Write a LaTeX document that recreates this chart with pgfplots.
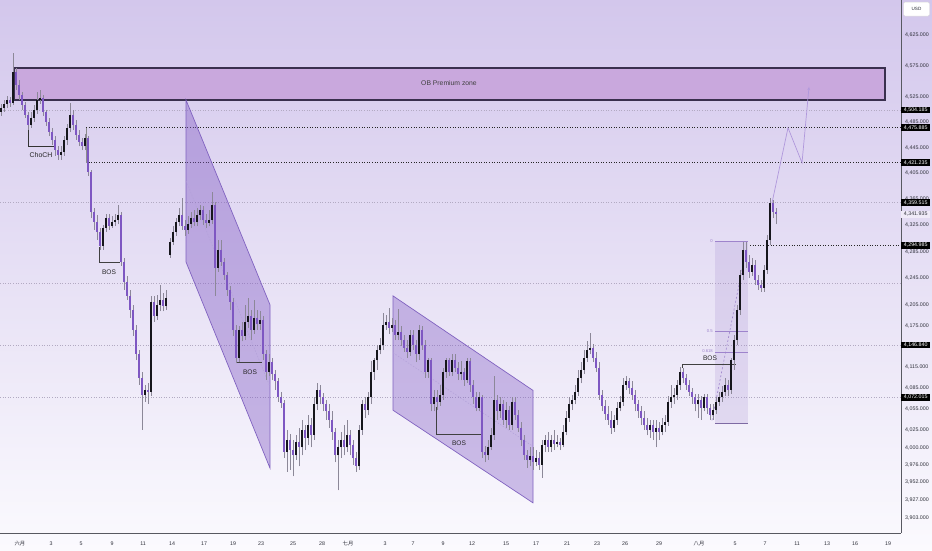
\documentclass[border=0pt]{standalone}
\usepackage{fontspec}
\setmainfont{Liberation Sans}
\newfontfamily\cjk{Noto Sans CJK SC}
\usepackage{pgfplots}
\usepackage{pgfplotstable}
\pgfplotsset{compat=1.18}
\usetikzlibrary{arrows.meta}
\definecolor{bgtop}{RGB}{211,199,236}
\definecolor{bgbot}{RGB}{251,250,254}
\definecolor{upc}{RGB}{22,22,28}
\definecolor{dnc}{RGB}{126,87,194}
\definecolor{wickc}{RGB}{140,136,152}
\definecolor{obfill}{RGB}{201,168,221}
\definecolor{obedge}{RGB}{58,48,78}
\definecolor{chan}{RGB}{126,87,194}
\definecolor{chanedge}{RGB}{128,98,192}
\definecolor{lblc}{RGB}{46,48,58}
\definecolor{gridc}{RGB}{178,170,194}
\definecolor{fibc}{RGB}{158,132,204}
\definecolor{projc}{RGB}{176,152,220}

\pgfplotstableread{
x o h l c
1 4501 4514 4495 4507
4 4507 4520 4501 4514
7 4514 4526 4507 4520
10 4520 4525 4509 4515
13 4515 4595 4512 4565
16 4565 4571 4536 4544
19 4544 4552 4520 4528
22 4528 4533 4504 4512
25 4512 4517 4492 4496
28 4496 4501 4473 4480
31 4480 4501 4476 4492
34 4492 4512 4485 4504
37 4504 4533 4498 4520
40 4520 4536 4514 4523
43 4523 4528 4495 4501
46 4501 4504 4479 4485
49 4485 4492 4463 4469
52 4469 4476 4449 4457
55 4457 4463 4432 4441
58 4441 4447 4426 4434
61 4434 4447 4426 4438
64 4438 4463 4432 4457
67 4457 4482 4449 4476
70 4476 4515 4469 4496
73 4496 4504 4473 4480
76 4480 4488 4457 4465
79 4465 4473 4447 4454
82 4454 4460 4441 4447
85 4447 4466 4441 4460
88 4460 4463 4401 4407
91 4407 4410 4336 4346
94 4346 4352 4318 4330
97 4330 4341 4303 4315
100 4315 4321 4288 4294
103 4294 4326 4288 4321
106 4321 4343 4315 4336
109 4336 4343 4318 4324
112 4324 4339 4321 4330
115 4330 4343 4324 4333
118 4333 4356 4327 4341
121 4341 4346 4264 4270
124 4270 4276 4228 4240
127 4240 4249 4213 4219
130 4219 4228 4187 4198
133 4198 4206 4160 4169
136 4169 4176 4125 4133
139 4133 4140 4089 4099
142 4099 4108 4025 4075
145 4075 4089 4065 4082
148 4082 4092 4062 4079
151 4079 4219 4073 4210
154 4210 4219 4181 4190
157 4190 4221 4184 4206
160 4206 4235 4196 4213
163 4213 4224 4196 4204
166 4204 4228 4198 4216
170 4280 4306 4276 4300
173 4300 4324 4295 4315
176 4315 4336 4309 4330
179 4330 4352 4324 4341
182 4341 4367 4318 4324
185 4324 4333 4309 4318
188 4318 4339 4312 4327
191 4327 4346 4321 4336
194 4336 4349 4324 4330
197 4330 4352 4324 4341
200 4341 4356 4333 4349
203 4349 4355 4326 4333
206 4333 4343 4321 4329
209 4329 4349 4324 4333
212 4333 4376 4327 4356
215 4356 4361 4219 4261
218 4261 4303 4255 4288
221 4288 4303 4264 4270
224 4270 4276 4243 4250
227 4250 4255 4219 4228
230 4228 4234 4198 4210
233 4210 4216 4160 4169
236 4169 4176 4120 4128
239 4128 4175 4122 4169
242 4169 4181 4152 4160
245 4160 4206 4154 4181
248 4181 4216 4172 4190
251 4190 4198 4154 4169
254 4169 4213 4163 4187
257 4187 4198 4169 4178
260 4178 4196 4169 4184
263 4184 4190 4125 4133
266 4133 4140 4096 4108
269 4108 4133 4102 4122
272 4122 4128 4096 4104
275 4104 4111 4082 4094
278 4094 4099 4065 4072
281 4072 4079 4056 4063
284 4063 4068 3986 3994
287 3994 4025 3966 4011
290 4011 4019 3969 3997
293 3997 4011 3960 3990
296 3990 4017 3983 4008
299 4008 4028 3974 4000
302 4000 4039 3990 4025
305 4025 4032 3997 4014
308 4014 4046 4004 4032
311 4032 4042 4000 4018
314 4018 4071 4011 4061
317 4061 4092 4053 4082
320 4082 4089 4061 4071
323 4071 4078 4051 4061
326 4061 4068 4039 4051
329 4051 4061 4028 4039
332 4039 4051 4011 4022
335 4022 4028 3980 3990
338 3990 4011 3941 4000
341 4000 4022 3986 4011
344 4011 4032 3990 4000
347 4000 4039 3994 4018
350 4018 4025 3990 4004
353 4004 4011 3976 3986
356 3986 3994 3966 3974
359 3974 4032 3969 4025
362 4025 4068 4018 4061
365 4061 4071 4042 4053
368 4053 4079 4046 4071
371 4071 4124 4062 4108
374 4108 4128 4096 4125
377 4125 4147 4111 4140
380 4140 4157 4133 4147
383 4147 4194 4140 4176
386 4176 4191 4169 4181
389 4181 4201 4163 4172
392 4172 4187 4166 4176
395 4176 4184 4154 4162
398 4162 4200 4154 4166
401 4166 4175 4146 4154
404 4154 4162 4137 4143
407 4143 4154 4128 4137
410 4137 4169 4131 4162
413 4162 4169 4140 4147
416 4147 4154 4122 4133
419 4133 4176 4125 4169
422 4169 4175 4140 4147
425 4147 4154 4099 4108
428 4108 4128 4099 4125
431 4125 4128 4051 4061
434 4061 4082 4051 4071
437 4071 4082 4053 4065
440 4065 4089 4059 4075
443 4075 4114 4068 4108
446 4108 4128 4099 4125
449 4125 4128 4102 4108
452 4108 4133 4102 4125
455 4125 4133 4108 4114
458 4114 4122 4096 4104
461 4104 4124 4096 4108
464 4108 4114 4088 4096
467 4096 4128 4091 4124
470 4124 4128 4079 4089
473 4089 4096 4061 4071
476 4071 4079 4051 4056
479 4056 4079 4051 4071
482 4071 4075 3986 3994
485 3994 4002 3980 3990
488 3990 4011 3983 4001
491 4001 4028 3997 4017
494 4017 4102 4011 4068
497 4068 4075 4039 4051
500 4051 4071 4042 4061
503 4061 4068 4032 4039
506 4039 4065 4028 4053
509 4053 4059 4025 4032
512 4032 4071 4025 4065
515 4065 4071 4039 4046
518 4046 4053 4022 4028
521 4028 4036 4002 4011
524 4011 4018 3983 3990
527 3990 3997 3972 3983
530 3983 4000 3974 3988
533 3988 4000 3969 3980
536 3980 3997 3974 3986
539 3986 3994 3969 3976
542 3976 4011 3958 4004
545 4004 4018 3994 4011
548 4011 4022 3994 4001
551 4001 4018 3994 4011
554 4011 4025 3997 4005
557 4005 4018 4000 4008
560 4008 4014 3997 4004
563 4004 4032 4000 4022
566 4022 4051 4017 4042
569 4042 4071 4036 4061
572 4061 4075 4053 4068
575 4068 4089 4061 4079
578 4079 4111 4073 4099
581 4099 4122 4091 4111
584 4111 4140 4105 4128
587 4128 4152 4122 4140
590 4140 4165 4133 4143
593 4143 4149 4122 4128
596 4128 4137 4108 4114
599 4114 4122 4068 4075
602 4075 4082 4051 4058
605 4058 4068 4039 4048
608 4048 4059 4032 4039
611 4039 4051 4019 4028
614 4028 4046 4022 4039
617 4039 4065 4032 4056
620 4056 4073 4051 4065
623 4065 4099 4059 4089
626 4089 4102 4082 4094
629 4094 4099 4076 4085
632 4085 4094 4068 4075
635 4075 4082 4051 4061
638 4061 4068 4042 4051
641 4051 4059 4032 4042
644 4042 4051 4025 4032
647 4032 4042 4017 4025
650 4025 4039 4014 4032
653 4032 4039 4011 4022
656 4022 4039 4000 4028
659 4028 4036 4011 4022
662 4022 4042 4017 4032
665 4032 4046 4022 4036
668 4036 4073 4031 4065
671 4065 4089 4056 4071
674 4071 4085 4062 4075
677 4075 4096 4068 4089
680 4089 4115 4082 4108
683 4108 4114 4091 4099
686 4099 4105 4082 4089
689 4089 4096 4073 4079
692 4079 4085 4062 4071
695 4071 4076 4051 4061
698 4061 4076 4042 4068
701 4068 4073 4039 4056
704 4056 4076 4051 4071
707 4071 4076 4048 4056
710 4056 4062 4039 4046
713 4046 4061 4039 4053
716 4053 4071 4048 4065
719 4065 4079 4059 4071
722 4071 4088 4065 4079
725 4079 4099 4073 4089
728 4089 4096 4073 4082
731 4082 4128 4076 4125
734 4125 4162 4111 4154
737 4154 4206 4147 4198
740 4198 4258 4191 4250
743 4250 4300 4243 4288
746 4288 4300 4261 4270
749 4270 4280 4246 4255
752 4255 4276 4249 4265
755 4265 4273 4235 4243
758 4243 4250 4228 4235
761 4235 4243 4225 4231
764 4231 4265 4225 4258
767 4258 4311 4252 4303
770 4303 4367 4295 4359
773 4359 4364 4336 4346
776 4346 4352 4327 4342
}\candles

% build wick / body segment lists from the table
\pgfplotstablegetrowsof{\candles}
\pgfmathtruncatemacro\lastrow{\pgfplotsretval-1}
\gdef\wicks{}\gdef\ups{}\gdef\downs{}
\pgfplotsforeachungrouped \i in {0,...,\lastrow}{%
  \pgfplotstablegetelem{\i}{x}\of\candles \let\cx\pgfplotsretval
  \pgfplotstablegetelem{\i}{o}\of\candles \let\co\pgfplotsretval
  \pgfplotstablegetelem{\i}{h}\of\candles \let\ch\pgfplotsretval
  \pgfplotstablegetelem{\i}{l}\of\candles \let\cl\pgfplotsretval
  \pgfplotstablegetelem{\i}{c}\of\candles \let\cc\pgfplotsretval
  \xdef\wicks{\wicks (\cx,\cl) (\cx,\ch) (nan,\ch)}%
  \ifdim \cc pt < \co pt
    \xdef\downs{\downs (\cx,\co) (\cx,\cc) (nan,\cc)}%
  \else
    \pgfmathsetmacro\ctop{max(\cc,\co+1.5)}%
    \xdef\ups{\ups (\cx,\co) (\cx,\ctop) (nan,\ctop)}%
  \fi
}

\begin{document}
\begin{tikzpicture}[x=1pt,y=1pt]
\useasboundingbox (0,0) rectangle (932,550);
\shade[top color=bgtop, bottom color=bgbot] (0,0) rectangle (932,550);
\begin{axis}[
  at={(0pt,17pt)}, anchor=south west,
  scale only axis, width=901pt, height=533pt,
  y coord trafo/.code={\pgfmathparse{1000*ln(#1)}},
  y coord inv trafo/.code={\pgfmathparse{exp(#1/1000)}},
  xmin=0, xmax=901, ymin=3881.8, ymax=4681.7,
  enlargelimits=false, scaled ticks=false,
  axis x line*=bottom, axis y line*=right,
  axis line style={draw=lblc!80, line width=1pt},
  major tick length=0pt, minor tick length=0pt,
  xtick={20,51,81,112,143,172,204,233,261,293,322,348,385,413,443,472,506,536,567,597,625,659,699,735,765,797,827,855,888},
  xticklabels={{\cjk 六月},3,5,9,11,14,17,19,23,25,28,{\cjk 七月},3,7,9,12,15,17,21,23,26,29,{\cjk 八月},5,7,11,13,16,19},
  ytick={3903,3927,3952,3976,4000,4025,4055,4085,4115,4175,4205,4245,4285,4325,4365,4405,4445,4485,4525,4575,4625},
  yticklabels={{3,903.000},{3,927.000},{3,952.000},{3,976.000},{4,000.000},{4,025.000},{4,055.000},{4,085.000},{4,115.000},{4,175.000},{4,205.000},{4,245.000},{4,285.000},{4,325.000},{4,365.000},{4,405.000},{4,445.000},{4,485.000},{4,525.000},{4,575.000},{4,625.000}},
  tick label style={font=\fontsize{5.3}{6}\selectfont, text=lblc},
  xticklabel style={anchor=base, yshift=-12.5pt, inner sep=0pt},
  yticklabel style={anchor=west, inner sep=0pt, xshift=4pt},
  unbounded coords=jump,
]
% grey dotted level lines
\draw[gridc, line width=0.6pt, dash pattern=on 1pt off 1.6pt] (axis cs:0,4504.185) -- (axis cs:901,4504.185);
\draw[gridc, line width=0.6pt, dash pattern=on 1pt off 1.6pt] (axis cs:0,4359.515) -- (axis cs:901,4359.515);
\draw[gridc, line width=0.6pt, dash pattern=on 1pt off 1.6pt] (axis cs:0,4238.4) -- (axis cs:901,4238.4);
\draw[gridc, line width=0.6pt, dash pattern=on 1pt off 1.6pt] (axis cs:0,4146.84) -- (axis cs:901,4146.84);
\draw[gridc, line width=0.6pt, dash pattern=on 1pt off 1.6pt] (axis cs:0,4072.015) -- (axis cs:901,4072.015);
% black dotted lines
\draw[black!85, line width=0.7pt, dash pattern=on 1pt off 1.6pt] (axis cs:86,4475.885) -- (axis cs:901,4475.885);
\draw[black!85, line width=0.7pt, dash pattern=on 1pt off 1.6pt] (axis cs:86,4421.235) -- (axis cs:901,4421.235);
\draw[black!85, line width=0.7pt, dash pattern=on 1pt off 1.6pt] (axis cs:750,4294.985) -- (axis cs:901,4294.985);
\draw[black!45, line width=0.5pt] (axis cs:86,4475.885) -- (axis cs:86,4421.235);
% OB zone
\draw[fill=obfill, draw=obedge, line width=1.1pt] (axis cs:14,4571.0) rectangle (axis cs:885,4520.0);
\node[font=\fontsize{6.8}{7}\selectfont, text=black!75, inner sep=0pt] at (axis cs:449,4546.5) {OB Premium zone};
% channel 1
\fill[chan, fill opacity=0.40] (axis cs:186,4520.0) -- (axis cs:270,4205.8) -- (axis cs:270,3971.6) -- (axis cs:186,4269.8) -- cycle;
\draw[chanedge, line width=0.7pt] (axis cs:186,4520.0) -- (axis cs:270,4205.8) -- (axis cs:270,3971.6) -- (axis cs:186,4269.8) -- cycle;
\draw[chanedge!60, line width=0.5pt, dash pattern=on 1.5pt off 1.5pt] (axis cs:186,4393.2) -- (axis cs:270,4087.0);
% channel 2
\fill[chan, fill opacity=0.36] (axis cs:393,4219.0) -- (axis cs:533,4082.0) -- (axis cs:533,3923.1) -- (axis cs:393,4053.4) -- cycle;
\draw[chanedge, line width=0.7pt] (axis cs:393,4219.0) -- (axis cs:533,4082.0) -- (axis cs:533,3923.1) -- (axis cs:393,4053.4) -- cycle;
\draw[chanedge!60, line width=0.5pt, dash pattern=on 1.5pt off 1.5pt] (axis cs:393,4135.5) -- (axis cs:533,4001.7);
% fib box
\fill[fibc, fill opacity=0.2] (axis cs:715,4301.5) rectangle (axis cs:748,4034.9);
\draw[fibc, line width=0.6pt] (axis cs:715,4301.5) -- (axis cs:748,4301.5);
\draw[fibc, line width=0.6pt] (axis cs:715,4167.5) -- (axis cs:748,4167.5);
\draw[fibc, line width=0.6pt] (axis cs:715,4135.5) -- (axis cs:748,4135.5);
\draw[fibc!80!black, line width=0.6pt] (axis cs:715,4034.9) -- (axis cs:748,4034.9);
\node[font=\fontsize{4.2}{5}\selectfont, text=fibc, anchor=east, inner sep=0pt] at (axis cs:713,4301.5) {0};
\node[font=\fontsize{4.2}{5}\selectfont, text=fibc, anchor=east, inner sep=0pt] at (axis cs:713,4167.5) {0.5};
\node[font=\fontsize{4.2}{5}\selectfont, text=fibc, anchor=east, inner sep=0pt] at (axis cs:713,4137.5) {0.618};
\draw[fibc, line width=0.6pt, dash pattern=on 2pt off 2pt] (axis cs:712,4039) -- (axis cs:742,4258);
% structure labels
\draw[black!80, line width=0.9pt] (axis cs:28,4480) -- (axis cs:28,4447.4) -- (axis cs:54,4447.4);
\node[font=\fontsize{6.9}{7}\selectfont, text=black!85, inner sep=0pt] at (axis cs:41,4433.5) {ChoCH};
\draw[black!75, line width=0.9pt] (axis cs:99,4292.3) -- (axis cs:99,4268.3) -- (axis cs:120,4268.3);
\node[font=\fontsize{6.6}{7}\selectfont, text=black!85, inner sep=0pt] at (axis cs:109,4255) {BOS};
\draw[black!75, line width=0.9pt] (axis cs:237,4121.0) -- (axis cs:262,4121.0);
\node[font=\fontsize{6.6}{7}\selectfont, text=black!85, inner sep=0pt] at (axis cs:250,4107) {BOS};
\draw[black!75, line width=0.9pt] (axis cs:436,4057.7) -- (axis cs:436,4019.4) -- (axis cs:482,4019.4);
\node[font=\fontsize{6.6}{7}\selectfont, text=black!85, inner sep=0pt] at (axis cs:459,4006) {BOS};
\draw[black!75, line width=0.9pt] (axis cs:682,4113) -- (axis cs:682,4119.1) -- (axis cs:736,4119.1);
\node[font=\fontsize{6.6}{7}\selectfont, text=black!85, inner sep=0pt] at (axis cs:710,4127) {BOS};
% candles
\edef\tmp{\noexpand\addplot[wickc, line width=0.55pt, mark=none, forget plot] coordinates {\wicks};}\tmp
\edef\tmp{\noexpand\addplot[upc, line width=1.9pt, mark=none, forget plot] coordinates {\ups};}\tmp
\edef\tmp{\noexpand\addplot[dnc, line width=1.9pt, mark=none, forget plot] coordinates {\downs};}\tmp
% projection
\draw[projc, line width=0.7pt, -{Stealth[length=3pt,width=2.6pt,open]}] (axis cs:772,4359.3) -- (axis cs:788,4475.9) -- (axis cs:802,4421.2) -- (axis cs:809,4540.7);
% coordinates for price boxes
\coordinate (b1) at (axis cs:901,4504.185);
\coordinate (b2) at (axis cs:901,4475.885);
\coordinate (b3) at (axis cs:901,4421.235);
\coordinate (b4) at (axis cs:901,4359.515);
\coordinate (b5) at (axis cs:901,4294.985);
\coordinate (b6) at (axis cs:901,4146.84);
\coordinate (b7) at (axis cs:901,4072.015);
\coordinate (b8) at (axis cs:901,4341.935);
\end{axis}
\tikzset{pbox/.style={fill=black, text=white, font=\fontsize{5.3}{6}\selectfont, anchor=west, minimum width=29pt, minimum height=6.8pt, inner sep=0pt}}
\node[pbox] at (b1) {4,504.185};
\node[pbox] at (b2) {4,475.885};
\node[pbox] at (b3) {4,421.235};
\node[pbox] at (b4) {4,359.515};
\node[pbox] at (b5) {4,294.985};
\node[pbox] at (b6) {4,146.840};
\node[pbox] at (b7) {4,072.015};
\node[pbox, fill=white!65!bgtop, text=lblc] at (b8) {4,341.935};
\node[draw=black!15, fill=white, rounded corners=1.5pt, font=\fontsize{4.6}{5}\selectfont, text=lblc, minimum width=26pt, minimum height=14pt, inner sep=0pt] at (916.5,540.8) {USD};
\end{tikzpicture}
\end{document}
